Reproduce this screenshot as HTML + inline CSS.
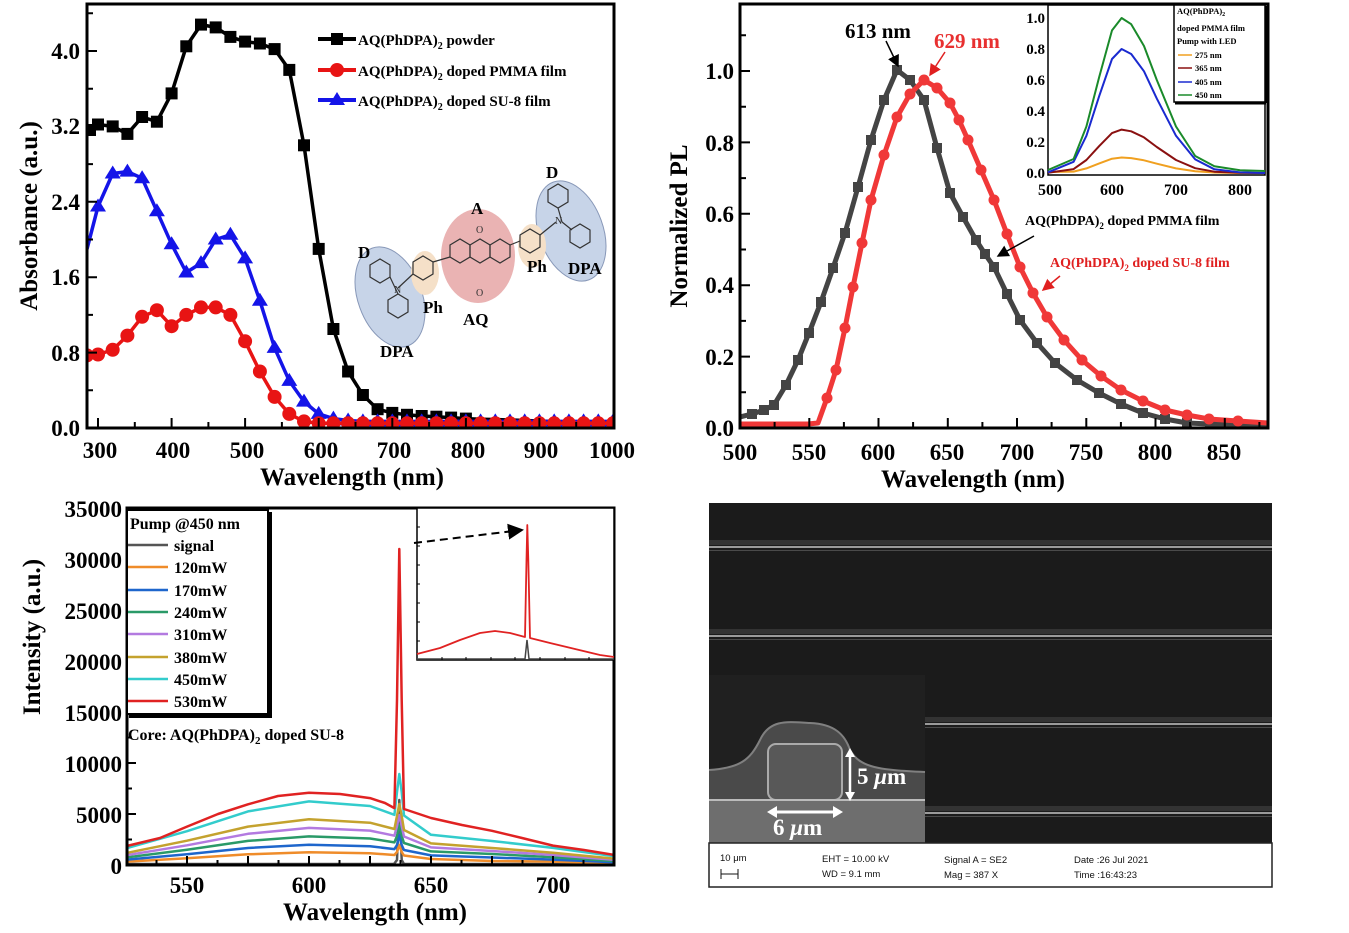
<!DOCTYPE html>
<html><head><meta charset="utf-8">
<style>
html,body{margin:0;padding:0;background:#fff;}
svg{display:block;font-family:"Liberation Serif",serif;font-weight:bold;}
</style></head>
<body>
<svg width="1349" height="933" viewBox="0 0 1349 933" xmlns="http://www.w3.org/2000/svg">
<defs>
<marker id="ah" markerWidth="8" markerHeight="8" refX="7" refY="4" orient="auto"><path d="M0,0 L8,4 L0,8 z" fill="#000"/></marker>
<marker id="ahr" markerWidth="8" markerHeight="8" refX="7" refY="4" orient="auto"><path d="M0,0 L8,4 L0,8 z" fill="#e02020"/></marker>
<marker id="mSq" markerUnits="userSpaceOnUse" markerWidth="14" markerHeight="14" refX="7" refY="7"><rect x="1" y="1" width="12" height="12" fill="#000"/></marker>
<marker id="mCi" markerUnits="userSpaceOnUse" markerWidth="16" markerHeight="16" refX="8" refY="8"><circle cx="8" cy="8" r="7" fill="#e81414"/></marker>
<marker id="mTr" markerUnits="userSpaceOnUse" markerWidth="18" markerHeight="16" refX="9" refY="9"><path d="M9,1 L17,14 L1,14 z" fill="#1414e8"/></marker>
<marker id="mSqG" markerUnits="userSpaceOnUse" markerWidth="12" markerHeight="12" refX="6" refY="6"><rect x="1" y="1" width="10" height="10" fill="#444"/></marker>
<marker id="mCiR" markerUnits="userSpaceOnUse" markerWidth="12" markerHeight="12" refX="6" refY="6"><circle cx="6" cy="6" r="5.5" fill="#f03838"/></marker>
<clipPath id="cA"><rect x="87" y="4" width="527" height="424"/></clipPath>
<clipPath id="cB"><rect x="740" y="4" width="528" height="424"/></clipPath>
<clipPath id="cC"><rect x="127" y="508" width="487" height="357"/></clipPath>
</defs>

<!-- ============ PANEL A ============ -->
<g clip-path="url(#cA)" fill="none" stroke-linejoin="round">
<polyline stroke="#000" stroke-width="3.5" points="87,131 98,124.5 112.7,126.4 127.4,133.9 142.1,117 156.9,121.7 171.6,93.4 186.3,46.3 201,24.6 215.7,27.4 230.4,36.9 245.1,41.6 259.9,43.5 274.6,49.1 289.3,69.9 304,145.3 318.7,248.9 333.4,329 348.1,371.5 362.9,395 377.6,409.2 392.3,412.9 407,414.8 421.7,416 436.4,416.7 451.1,417.6 465.9,418.6 480.6,419.2 495.3,419.5 539,421 580,422.5 614,423.3"/>
<polyline stroke="none" marker-start="url(#mSq)" marker-mid="url(#mSq)" marker-end="url(#mSq)" points="90,130 98,124.5 112.7,126.4 127.4,133.9 142.1,117 156.9,121.7 171.6,93.4 186.3,46.3 201,24.6 215.7,27.4 230.4,36.9 245.1,41.6 259.9,43.5 274.6,49.1 289.3,69.9 304,145.3 318.7,248.9 333.4,329 348.1,371.5 362.9,395 377.6,409.2 392.3,412.9 407,414.8 421.7,416 436.4,416.7 451.1,417.6 465.9,418.6"/>
<polyline stroke="#1414e8" stroke-width="3.5" marker-mid="url(#mTr)" marker-end="url(#mTr)" points="87,249 98,206.5 112.7,173.5 127.4,171.6 142.1,178.2 156.9,211.2 171.6,244.2 186.3,272.5 201,263.1 215.7,239.5 230.4,234.8 245.1,258.4 259.9,300.8 274.6,347.9 289.3,380.9 304,401.6 318.7,413.9 333.4,418.6 348.1,420.5 362.9,421.4 377.6,421.4 392.3,421.4 407,421.4 421.7,421.4 436.4,421.4 451.1,421.4 465.9,421.4 480.6,421.4 495.3,421.4 510,421.4 524.7,421.4 539.4,421.4 554.2,421.4 568.9,421.4 583.6,421.4 598.3,421.4 613,421.4"/>
<polyline stroke="#e81414" stroke-width="3.5" marker-start="url(#mCi)" marker-mid="url(#mCi)" marker-end="url(#mCi)" points="87,355.4 98,354.5 112.7,349.8 127.4,335.6 142.1,316.8 156.9,310.2 171.6,326.2 186.3,314.9 201,307.4 215.7,307.4 230.4,314.9 245.1,341.3 259.9,371.5 274.6,396.9 289.3,413.9 304,421.4 318.7,423.3 333.4,423.3 348.1,423.3 362.9,423.3 377.6,423.3 392.3,423.3 407,423.3 421.7,423.3 436.4,423.3 451.1,423.3 465.9,423.3 480.6,423.3 495.3,423.3 510,423.3 524.7,423.3 539.4,423.3 554.2,423.3 568.9,423.3 583.6,423.3 598.3,423.3 613,423.3"/>
</g>
<rect x="87" y="4" width="527" height="424" fill="none" stroke="#000" stroke-width="3"/>
<path stroke="#000" stroke-width="2" d="M98,428v-10M134.8,428v-6M171.6,428v-10M208.4,428v-6M245.1,428v-10M281.9,428v-6M318.7,428v-10M355.5,428v-6M392.3,428v-10M429.1,428v-6M465.9,428v-10M502.7,428v-6M539.4,428v-10M576.2,428v-6
M87,390.3h6M87,352.6h10M87,314.9h6M87,277.2h10M87,239.5h6M87,201.8h10M87,164.1h6M87,126.4h10M87,88.7h6M87,51h10M87,13.3h6"/>
<g font-size="23" text-anchor="end">
<text x="80" y="436">0.0</text><text x="80" y="361">0.8</text><text x="80" y="285">1.6</text>
<text x="80" y="210">2.4</text><text x="80" y="134">3.2</text><text x="80" y="59">4.0</text>
</g>
<g font-size="23" text-anchor="middle">
<text x="100" y="458">300</text><text x="173" y="458">400</text><text x="247" y="458">500</text>
<text x="321" y="458">600</text><text x="394" y="458">700</text><text x="468" y="458">800</text>
<text x="541" y="458">900</text><text x="612" y="458">1000</text>
</g>
<text x="352" y="485" font-size="25" text-anchor="middle">Wavelength (nm)</text>
<text transform="translate(37,216) rotate(-90)" font-size="25" text-anchor="middle">Absorbance (a.u.)</text>
<g font-size="15">
<line x1="318" y1="39" x2="356" y2="39" stroke="#000" stroke-width="4"/><rect x="331" y="33" width="12" height="12" fill="#000"/>
<text x="358" y="45">AQ(PhDPA)<tspan font-size="10" dy="4">2</tspan><tspan dy="-4"> powder</tspan></text>
<line x1="318" y1="70" x2="356" y2="70" stroke="#e81414" stroke-width="4"/><circle cx="337" cy="70" r="7" fill="#e81414"/>
<text x="358" y="76">AQ(PhDPA)<tspan font-size="10" dy="4">2</tspan><tspan dy="-4"> doped  PMMA film</tspan></text>
<line x1="318" y1="100" x2="356" y2="100" stroke="#1414e8" stroke-width="4"/><path d="M337,92 L345,105 L329,105 z" fill="#1414e8"/>
<text x="358" y="106">AQ(PhDPA)<tspan font-size="10" dy="4">2</tspan><tspan dy="-4"> doped  SU-8 film</tspan></text>
</g>
<ellipse cx="390" cy="297" rx="32" ry="52" fill="#c7d4e8" stroke="#8898b8" transform="rotate(-20 390 297)"/>
<ellipse cx="571" cy="231" rx="32" ry="52" fill="#c7d4e8" stroke="#8898b8" transform="rotate(-20 571 231)"/>
<ellipse cx="478" cy="256" rx="37" ry="47" fill="#eab3b3"/>
<ellipse cx="425" cy="273" rx="14" ry="22" fill="#f5e0c8"/>
<ellipse cx="532" cy="246" rx="14" ry="22" fill="#f5e0c8"/>
<g fill="none" stroke="#333" stroke-width="1.2">
<polygon points="370,265 380,259 390,265 390,277 380,283 370,277"/>
<polygon points="388,300 398,294 408,300 408,312 398,318 388,312"/>
<polygon points="413,262 423,256 433,262 433,274 423,280 413,274"/>
<polygon points="450,245 460,239 470,245 470,257 460,263 450,257"/>
<polygon points="470,245 480,239 490,245 490,257 480,263 470,257"/>
<polygon points="490,245 500,239 510,245 510,257 500,263 490,257"/>
<polygon points="520,235 530,229 540,235 540,247 530,253 520,247"/>
<polygon points="548,190 558,184 568,190 568,202 558,208 548,202"/>
<polygon points="570,230 580,224 590,230 590,242 580,248 570,242"/>
<line x1="390" y1="277" x2="398" y2="294"/><line x1="398" y1="288" x2="413" y2="274"/>
<line x1="433" y1="262" x2="450" y2="257"/><line x1="510" y1="245" x2="520" y2="241"/>
<line x1="540" y1="235" x2="556" y2="222"/><line x1="558" y1="208" x2="562" y2="222"/><line x1="562" y1="222" x2="572" y2="230"/>
</g>
<g font-size="10" fill="#333" font-weight="normal"><text x="476" y="233">O</text><text x="476" y="296">O</text><text x="394" y="293">N</text><text x="555" y="224">N</text></g>
<g font-size="17"><text x="471" y="214">A</text><text x="358" y="258">D</text><text x="546" y="178">D</text>
<text x="423" y="313">Ph</text><text x="527" y="272">Ph</text><text x="463" y="325">AQ</text><text x="380" y="357">DPA</text><text x="568" y="274">DPA</text></g>

<!-- ============ PANEL B ============ -->
<g clip-path="url(#cB)" fill="none" stroke-linejoin="round">
<polyline stroke="#444" stroke-width="5" marker-mid="url(#mSqG)" points="740,417 752,414 764,410 774,405 786,385 798,360 809,333 821,302 833,268 845,233 858,187 871,140 884,100 897,70 910,80 924,100 937,148 950,193 963,217 976,240 985,254 994,267 1007,294 1020,320 1037,343 1055,363 1077,380 1099,393 1121,404 1143,413 1165,419 1187,423 1210,424 1240,424 1268,424"/>
<polyline stroke="#f03838" stroke-width="5" points="740,424 770,424 795,424 808,424 818,423 827,398 836,370 845,328 853,287 862,243 871,200 884,155 897,117 910,94 924,80 937,88 950,103 959,120 968,140 981,170 994,200 1007,234 1020,267 1033,293 1047,317 1064,340 1082,360 1101,376 1121,390 1143,401 1165,410 1187,415 1209,419 1238,421 1268,423"/>
<polyline stroke="none" marker-mid="url(#mCiR)" points="818,423 827,398 836,370 845,328 853,287 862,243 871,200 884,155 897,117 910,94 924,80 937,88 950,103 959,120 968,140 981,170 994,200 1007,234 1020,267 1033,293 1047,317 1064,340 1082,360 1101,376 1121,390 1143,401 1165,410 1187,415 1209,419 1238,421 1268,423"/>
</g>
<rect x="740" y="4" width="528" height="424" fill="none" stroke="#000" stroke-width="3"/>
<path stroke="#000" stroke-width="2" d="M774.6,428v-6M809.3,428v-10M843.9,428v-6M878.5,428v-10M913.1,428v-6M947.8,428v-10M982.4,428v-6M1017,428v-10M1051.6,428v-6M1086.3,428v-10M1120.9,428v-6M1155.5,428v-10M1190.1,428v-6M1224.8,428v-10M1259.4,428v-6
M740,392.3h6M740,356.6h10M740,320.9h6M740,285.2h10M740,249.5h6M740,213.8h10M740,178.1h6M740,142.4h10M740,106.7h6M740,71h10M740,35.3h6"/>
<g font-size="23" text-anchor="end">
<text x="734" y="436">0.0</text><text x="734" y="365">0.2</text><text x="734" y="293">0.4</text>
<text x="734" y="222">0.6</text><text x="734" y="151">0.8</text><text x="734" y="79">1.0</text>
</g>
<g font-size="23" text-anchor="middle">
<text x="740" y="460">500</text><text x="809" y="460">550</text><text x="878" y="460">600</text>
<text x="947" y="460">650</text><text x="1017" y="460">700</text><text x="1086" y="460">750</text>
<text x="1155" y="460">800</text><text x="1224" y="460">850</text>
</g>
<text x="973" y="487" font-size="25" text-anchor="middle">Wavelength (nm)</text>
<text transform="translate(687,226) rotate(-90)" font-size="25" text-anchor="middle">Normalized PL</text>
<text x="845" y="38" font-size="21">613 nm</text>
<text x="934" y="48" font-size="21" fill="#e83030">629 nm</text>
<line x1="886" y1="41" x2="898" y2="66" stroke="#000" stroke-width="1.5" marker-end="url(#ah)"/>
<line x1="945" y1="52" x2="930" y2="75" stroke="#e02020" stroke-width="1.5" marker-end="url(#ahr)"/>
<text x="1025" y="225" font-size="14">AQ(PhDPA)<tspan font-size="9" dy="4">2</tspan><tspan dy="-4"> doped PMMA film</tspan></text>
<line x1="1034" y1="236" x2="998" y2="256" stroke="#000" stroke-width="1.5" marker-end="url(#ah)"/>
<text x="1050" y="267" font-size="14" fill="#e02020">AQ(PhDPA)<tspan font-size="9" dy="4">2</tspan><tspan dy="-4"> doped SU-8 film</tspan></text>
<line x1="1060" y1="276" x2="1043" y2="290" stroke="#e02020" stroke-width="1.5" marker-end="url(#ahr)"/>
<!-- inset B -->
<rect x="1048" y="5" width="217" height="170" fill="#fff" stroke="#000" stroke-width="1.5"/>
<g fill="none" stroke-width="2" stroke-linejoin="round">
<polyline stroke="#f0a020" points="1048,172 1073.6,171.6 1086.4,168.4 1099.2,163.4 1112,158.7 1121.6,157.5 1131.2,158.1 1144,160.3 1156.8,163.7 1176,168.4 1195.2,171.3 1214.4,172.5 1240,173 1265,173"/>
<polyline stroke="#8a1010" points="1048,172.7 1073.6,169.1 1086.4,160 1099.2,146.1 1112,133.1 1121.6,129.6 1131.2,131.3 1144,137.4 1156.8,147 1176,160 1195.2,168.2 1214.4,171.7 1240,172.8 1265,173"/>
<polyline stroke="#1a2ad0" points="1048,172.3 1073.6,161.8 1086.4,135.8 1099.2,96.1 1112,59 1121.6,49 1131.2,54 1144,71.3 1156.8,98.6 1176,135.8 1195.2,159.4 1214.4,169.3 1240,172.4 1265,173"/>
<polyline stroke="#1a8a2a" points="1048,170 1073.6,159 1086.4,126.5 1099.2,77 1112,30.4 1121.6,18 1131.2,24.2 1144,46 1156.8,80 1176,126.5 1195.2,156 1214.4,166.3 1240,170.2 1265,171"/>
</g>
<g font-size="15" text-anchor="end">
<text x="1045" y="178">0.0</text><text x="1045" y="147">0.2</text><text x="1045" y="116">0.4</text>
<text x="1045" y="85">0.6</text><text x="1045" y="54">0.8</text><text x="1045" y="23">1.0</text></g>
<g font-size="16" text-anchor="middle"><text x="1050" y="195">500</text><text x="1112" y="195">600</text><text x="1176" y="195">700</text><text x="1240" y="195">800</text></g>
<rect x="1174" y="5" width="91" height="97" fill="#fff" stroke="#000" stroke-width="1.5"/>
<line x1="1266" y1="6" x2="1266" y2="103" stroke="#000" stroke-width="3"/><line x1="1175" y1="103" x2="1266" y2="103" stroke="#000" stroke-width="3"/>
<g font-size="8.5"><text x="1177" y="14">AQ(PhDPA)<tspan font-size="6" dy="2">2</tspan></text>
<text x="1177" y="31">doped PMMA film</text><text x="1177" y="44">Pump with LED</text>
<line x1="1178" y1="55" x2="1192" y2="55" stroke="#f0a020" stroke-width="1.5"/><text x="1195" y="58">275 nm</text>
<line x1="1178" y1="68" x2="1192" y2="68" stroke="#8a1010" stroke-width="1.5"/><text x="1195" y="71">365 nm</text>
<line x1="1178" y1="82" x2="1192" y2="82" stroke="#1a2ad0" stroke-width="1.5"/><text x="1195" y="85">405 nm</text>
<line x1="1178" y1="95" x2="1192" y2="95" stroke="#1a8a2a" stroke-width="1.5"/><text x="1195" y="98">450 nm</text></g>

<!-- ============ PANEL C ============ -->
<g clip-path="url(#cC)" fill="none" stroke-width="2.5" stroke-linejoin="round">
<polyline stroke="#555" points="126,864 394,864 397,860 399.3,800 401.7,860 404,864 614,864"/>
<polyline stroke="#ef8c2a" points="126,861.7 187,858.3 248,854.3 309,852.3 370,853.2 394.4,855 397,852 399.3,845 401.7,852 404,855.5 431,859 492,861 553,861.6 614,863.2"/>
<polyline stroke="#1e66cc" points="126,859.7 187,854.3 248,848 309,844.8 370,846.3 394.4,849.1 397,845 399.3,835 401.7,845 404,850 431,855.4 492,857.5 553,859.6 614,862.2"/>
<polyline stroke="#2a9a68" points="126,857.5 187,849.8 248,840.9 309,836.4 370,838.5 394.4,842.4 397,836 399.3,825 401.7,836 404,843 431,851.4 492,854 553,857.3 614,861"/>
<polyline stroke="#b37ae0" points="126,855.3 187,845.3 248,833.8 309,827.9 370,830.6 394.4,835.7 397,826 399.3,815 401.7,826 404,836.5 431,847.4 492,851 553,855 614,859.8"/>
<polyline stroke="#c4a22e" points="126,853.1 187,840.7 248,826.6 309,819.3 370,822.7 394.4,829 397,816 399.3,804 401.7,816 404,830 431,843.4 492,848 553,852.7 614,858.6"/>
<polyline stroke="#33cccc" points="126,848.4 187,831.2 248,811.4 309,801.4 370,806 394.4,814.8 397,792 399.3,774 401.7,792 404,815.5 431,834.8 492,841 553,847.9 614,856.1"/>
<polyline stroke="#e02222" points="126,846.2 160,838 187,826.6 218,814 248,804.3 278,796 309,792.8 340,794 370,798.1 385,803 394.4,808.1 397,700 399.3,549 401.7,700 404,809 431,818 462,825 492,830.8 522,838 553,845.6 584,850 614,854.9"/>
</g>
<rect x="127" y="508" width="487" height="357" fill="none" stroke="#000" stroke-width="3"/>
<path stroke="#000" stroke-width="2" d="M156.5,865v-5M187,865v-9M217.5,865v-5M248,865v-9M278.5,865v-5M309,865v-9M339.5,865v-5M370,865v-9M400.5,865v-5M431,865v-9M461.5,865v-5M492,865v-9M522.5,865v-5M553,865v-9M583.5,865v-5
M127,839.5h5M127,814h9M127,788.5h5M127,763h9M127,737.5h5M127,712h9M127,686.5h5M127,661h9M127,635.5h5M127,610h9M127,584.5h5M127,559h9M127,533.5h5"/>
<g font-size="23" text-anchor="end">
<text x="122" y="874">0</text><text x="122" y="823">5000</text><text x="122" y="772">10000</text>
<text x="122" y="721">15000</text><text x="122" y="670">20000</text><text x="122" y="619">25000</text>
<text x="122" y="568">30000</text><text x="122" y="517">35000</text></g>
<g font-size="23" text-anchor="middle"><text x="187" y="893">550</text><text x="309" y="893">600</text><text x="431" y="893">650</text><text x="553" y="893">700</text></g>
<text x="375" y="920" font-size="25" text-anchor="middle">Wavelength (nm)</text>
<text transform="translate(40,637) rotate(-90)" font-size="25" text-anchor="middle">Intensity (a.u.)</text>
<rect x="127" y="510" width="141" height="204" fill="#fff" stroke="#000" stroke-width="2"/>
<line x1="270" y1="512" x2="270" y2="717" stroke="#000" stroke-width="4"/><line x1="129" y1="716" x2="272" y2="716" stroke="#000" stroke-width="4"/>
<g font-size="16">
<text x="130" y="529">Pump @450 nm</text>
<text x="174" y="551">signal</text><text x="174" y="573">120mW</text><text x="174" y="596">170mW</text><text x="174" y="618">240mW</text>
<text x="174" y="640">310mW</text><text x="174" y="663">380mW</text><text x="174" y="685">450mW</text><text x="174" y="707">530mW</text></g>
<g stroke-width="2.5">
<line x1="128" y1="545" x2="168" y2="545" stroke="#555"/><line x1="128" y1="567" x2="168" y2="567" stroke="#ef8c2a"/>
<line x1="128" y1="590" x2="168" y2="590" stroke="#1e66cc"/><line x1="128" y1="612" x2="168" y2="612" stroke="#2a9a68"/>
<line x1="128" y1="634" x2="168" y2="634" stroke="#b37ae0"/><line x1="128" y1="657" x2="168" y2="657" stroke="#c4a22e"/>
<line x1="128" y1="679" x2="168" y2="679" stroke="#33cccc"/><line x1="128" y1="701" x2="168" y2="701" stroke="#e02222"/></g>
<text x="128" y="740" font-size="16">Core:  AQ(PhDPA)<tspan font-size="11" dy="4">2</tspan><tspan dy="-4"> doped SU-8</tspan></text>
<rect x="417" y="508" width="197" height="152" fill="#fff" stroke="#000" stroke-width="1.5"/>
<polyline fill="none" stroke="#e02222" stroke-width="1.8" stroke-linejoin="round" points="417,654 440,648 460,640 480,633 495,631 510,633 525,637 526.5,560 527.3,525 528.3,560 530,638 550,643 575,649 600,655 614,657"/>
<polyline fill="none" stroke="#444" stroke-width="1.5" points="417,659 525,659 527,640 529,659 614,659"/>
<path stroke="#000" stroke-width="1" d="M417,641h3M417,622h3M417,603h3M417,584h3M417,565h3M417,546h3M417,527h3M442,660v-3M466,660v-3M491,660v-3M515,660v-3M540,660v-3M565,660v-3M589,660v-3"/>
<line x1="414" y1="543" x2="522" y2="530" stroke="#000" stroke-width="2" stroke-dasharray="8,5" marker-end="url(#ah)"/>

<!-- ============ PANEL D (SEM) ============ -->
<rect x="709" y="503" width="563" height="340" fill="#1b1b1b"/>
<g fill="#333"><rect x="709" y="540" width="563" height="5"/><rect x="709" y="629" width="563" height="5"/><rect x="925" y="717" width="347" height="5"/><rect x="925" y="806" width="347" height="5"/></g>
<g fill="#9a9a9a"><rect x="709" y="546" width="563" height="2"/><rect x="709" y="635" width="563" height="2"/><rect x="925" y="723" width="347" height="2"/><rect x="925" y="812" width="347" height="2"/></g>
<g fill="#4a4a4a"><rect x="709" y="550" width="563" height="1"/><rect x="709" y="639" width="563" height="1"/><rect x="925" y="727" width="347" height="1"/><rect x="925" y="816" width="347" height="1"/></g>
<rect x="709" y="675" width="216" height="168" fill="#202020"/>
<path d="M709,770 C740,768 750,760 760,740 C770,718 790,722 810,723 C835,724 845,735 850,750 C860,768 880,770 925,772 L925,800 L709,800 z" fill="#4a4a4a"/>
<path d="M709,770 C740,768 750,760 760,740 C770,718 790,722 810,723 C835,724 845,735 850,750 C860,768 880,770 925,772" fill="none" stroke="#808080" stroke-width="2"/>
<rect x="768" y="744" width="74" height="56" rx="8" fill="#585858" stroke="#aaa" stroke-width="2"/>
<rect x="709" y="800" width="216" height="43" fill="#6e6e6e"/>
<line x1="709" y1="800" x2="925" y2="800" stroke="#bbb" stroke-width="2"/>
<line x1="850" y1="752" x2="850" y2="797" stroke="#fff" stroke-width="2.5"/>
<path d="M850,748 l-5,9 h10z M850,801 l-5,-9 h10z" fill="#fff"/>
<path d="M770,812 h70" stroke="#fff" stroke-width="3"/><path d="M767,812 l10,-6 v12z M843,812 l-10,-6 v12z" fill="#fff"/>
<text x="857" y="784" font-size="23" fill="#fff">5 <tspan font-style="italic">μ</tspan>m</text>
<text x="773" y="835" font-size="23" fill="#fff">6 <tspan font-style="italic">μ</tspan>m</text>
<rect x="709" y="843" width="563" height="44" fill="#fff" stroke="#222" stroke-width="1.5"/>
<g font-family="Liberation Sans, sans-serif" font-weight="normal" font-size="9.5" fill="#111">
<text x="720" y="861">10 μm</text>
<text x="822" y="862">EHT = 10.00 kV</text><text x="822" y="877">WD =  9.1 mm</text>
<text x="944" y="863">Signal A = SE2</text><text x="944" y="878">Mag =    387 X</text>
<text x="1074" y="863">Date :26 Jul 2021</text><text x="1074" y="878">Time :16:43:23</text></g>
<path d="M721,869 v10 M721,874 h17 M738,869 v10" stroke="#111" stroke-width="1"/>
</svg>
</body></html>
